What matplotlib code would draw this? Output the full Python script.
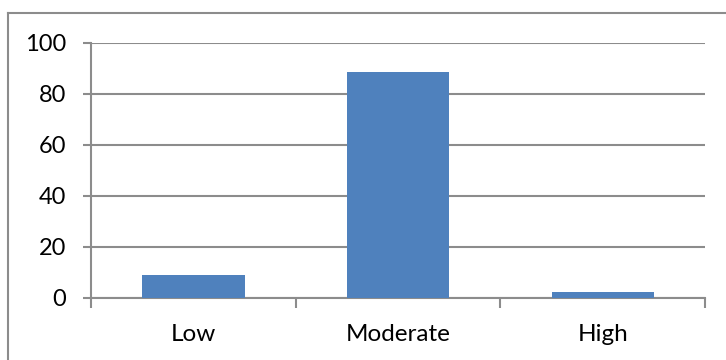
import matplotlib
matplotlib.use("Agg")
import matplotlib.pyplot as plt
from matplotlib.lines import Line2D
import numpy as np

# Datos
categorias = ["Low", "Moderate", "High"]
valores = [8.7, 88.5, 2.3]
yticks = [0, 20, 40, 60, 80, 100]

gris = "#8c8c8c"
azul = "#4f81bd"

plt.rcParams["font.family"] = ["Lato", "DejaVu Sans"]

fig = plt.figure(figsize=(7.26, 3.6), dpi=100)
ax = fig.add_axes([91/726, 62.5/360, (705-91)/726, (297.5-42.7)/360])

x = np.arange(len(categorias))
ax.bar(x, valores, width=0.5, color=azul, zorder=3)

ax.set_xlim(-0.5, len(categorias) - 0.5)
ax.set_ylim(0, 100)
ax.set_yticks(yticks)
ax.set_yticklabels([str(v) for v in yticks], fontsize=17)
ax.set_xticks(x)
ax.set_xticklabels(categorias, fontsize=17.5)
ax.set_xticks(np.arange(-0.5, len(categorias), 1.0), minor=True)

ax.tick_params(axis="x", which="major", length=0, pad=19)
ax.tick_params(axis="x", which="minor", length=7, width=1.5, color=gris, direction="out")
ax.tick_params(axis="y", length=6, width=1.5, color=gris, pad=12)

ax.grid(axis="y", color=gris, linewidth=1.5, zorder=0)
for lado in ["top", "right"]:
    ax.spines[lado].set_visible(False)
for lado in ["left", "bottom"]:
    ax.spines[lado].set_color(gris)
    ax.spines[lado].set_linewidth(1.5)

# Marco exterior del gráfico (solo visibles izquierda y arriba)
fig.add_artist(Line2D([8/726, 8/726], [0, 1 - 13/360], color=gris, linewidth=1.5))
fig.add_artist(Line2D([8/726, 1], [1 - 13/360, 1 - 13/360], color=gris, linewidth=1.5))

fig.savefig("out.png", dpi=100)
